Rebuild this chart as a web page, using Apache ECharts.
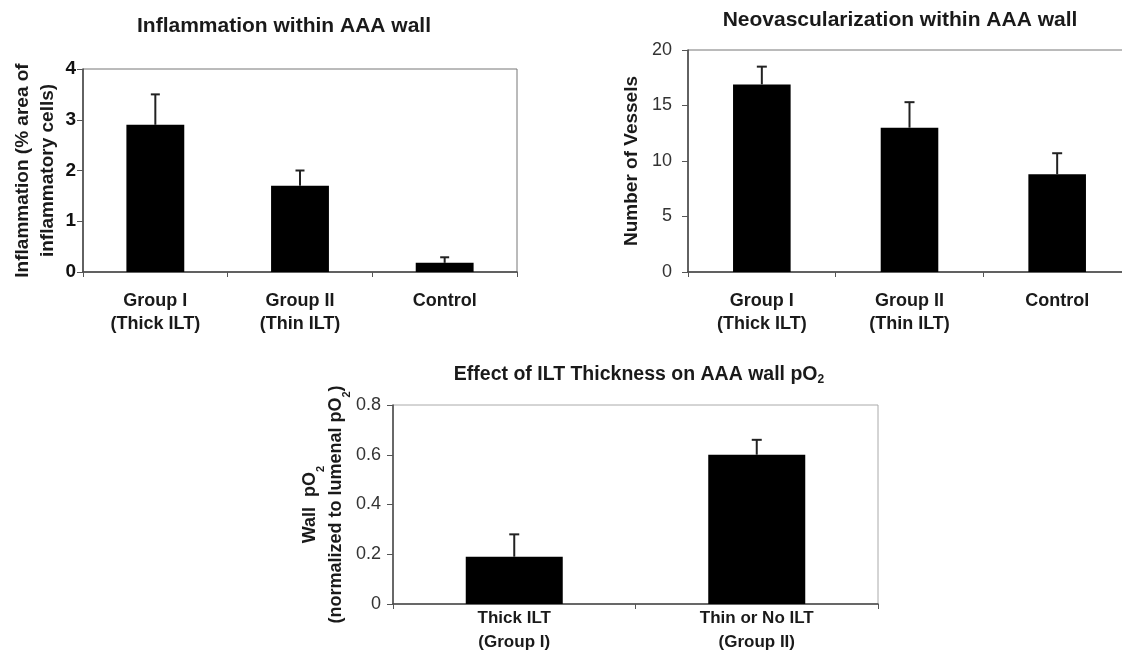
<!DOCTYPE html>
<html>
<head>
<meta charset="utf-8">
<script src="https://cdn.jsdelivr.net/npm/echarts@6/dist/echarts.min.js"></script>
<style>
  html, body { margin: 0; padding: 0; background: #fff; }
  #chart { width: 1122px; height: 653px; }
</style>
</head>
<body>
<div id="chart"></div>
<script>
// Inflammation within the AAA wall
const inflCategories = ['Group I\n(Thick ILT)', 'Group II\n(Thin ILT)', 'Control'];
const inflMeans = [2.9, 1.7, 0.18];
const inflErrors = [0.6, 0.3, 0.11];

// Neovascularization within the AAA wall
const neoCategories = ['Group I\n(Thick ILT)', 'Group II\n(Thin ILT)', 'Control'];
const neoMeans = [16.9, 13, 8.8];
const neoErrors = [1.6, 2.3, 1.9];

// Wall pO2 by ILT thickness
const po2Categories = ['Thick ILT\n(Group I)', 'Thin or No ILT\n(Group II)'];
const po2Means = [0.19, 0.6];
const po2Errors = [0.09, 0.06];

const FONT = '"Liberation Sans", Arial, sans-serif';
const INK = '#1a1a1a';

function errorData(means, errors) {
  return means.map((m, i) => [i, m, m + errors[i]]);
}

// Upper error whisker with a short cap, drawn through the grid's own scales
function errorBarSeries(idx, means, errors, capHalf) {
  return {
    type: 'custom',
    xAxisIndex: idx,
    yAxisIndex: idx,
    silent: true,
    z: 5,
    data: errorData(means, errors),
    encode: { x: 0, y: [1, 2] },
    renderItem: function (params, api) {
      const base = api.coord([api.value(0), api.value(1)]);
      const top = api.coord([api.value(0), api.value(2)]);
      const style = { stroke: '#222', lineWidth: 2 };
      return {
        type: 'group',
        children: [
          { type: 'line', shape: { x1: base[0], y1: base[1], x2: top[0], y2: top[1] }, style: style },
          { type: 'line', shape: { x1: top[0] - capHalf, y1: top[1], x2: top[0] + capHalf, y2: top[1] }, style: style }
        ]
      };
    }
  };
}

function catAxis(idx, cats, margin, fontSize, lineHeight) {
  return {
    type: 'category',
    gridIndex: idx,
    data: cats,
    axisLine: { lineStyle: { color: '#444', width: 1.5 } },
    axisTick: { show: true, length: 5, inside: false, lineStyle: { color: '#555' } },
    axisLabel: {
      margin: margin,
      fontFamily: FONT,
      fontWeight: 'bold',
      fontSize: fontSize,
      lineHeight: lineHeight,
      color: INK
    }
  };
}

function valAxis(idx, max, interval, labelStyle, name, nameGap, nameSize, nameLineHeight, nameRich) {
  return {
    type: 'value',
    gridIndex: idx,
    min: 0,
    max: max,
    interval: interval,
    splitLine: { show: false },
    axisLine: { show: true, lineStyle: { color: '#444', width: 1.5 } },
    axisTick: { show: true, length: 6, lineStyle: { color: '#555' } },
    axisLabel: Object.assign({ fontFamily: FONT }, labelStyle),
    name: name,
    nameLocation: 'middle',
    nameRotate: 90,
    nameGap: nameGap,
    nameTextStyle: Object.assign({
      fontFamily: FONT,
      fontWeight: 'bold',
      fontSize: nameSize,
      lineHeight: nameLineHeight,
      color: INK
    }, nameRich ? { rich: nameRich } : {})
  };
}

const subRich = {
  sub: { fontFamily: FONT, fontWeight: 'bold', fontSize: 11, verticalAlign: 'bottom', lineHeight: 26, padding: [0, 0, -3, 0], color: INK }
};

function titleText(text, x, y, size, rich) {
  return {
    type: 'text',
    x: x,
    y: y,
    silent: true,
    style: {
      text: text,
      align: 'center',
      verticalAlign: 'middle',
      fontFamily: FONT,
      fontWeight: 'bold',
      fontSize: size,
      fill: INK,
      rich: rich || {}
    }
  };
}

const option = {
  backgroundColor: '#fff',
  animation: false,
  graphic: [
    titleText('Inflammation within AAA wall', 284, 26, 21),
    titleText('Neovascularization within AAA wall', 900, 20, 21),
    titleText('Effect of ILT Thickness on AAA wall pO{sub|2}', 639, 375, 19.5, {
      sub: { fontFamily: FONT, fontWeight: 'bold', fontSize: 12, fill: INK, padding: [9, 0, 0, 0] }
    })
  ],
  grid: [
    { left: 83, top: 69, width: 434, height: 203, show: true, borderColor: '#777', borderWidth: 1, outerBoundsMode: 'none' },
    // the right edge of this panel runs past the canvas
    { left: 688, top: 50, width: 443, height: 222, show: true, borderColor: '#777', borderWidth: 1, outerBoundsMode: 'none' },
    { left: 393, top: 405, width: 485, height: 199, show: true, borderColor: '#aaa', borderWidth: 1, outerBoundsMode: 'none' }
  ],
  xAxis: [
    catAxis(0, inflCategories, 18, 18, 23),
    catAxis(1, neoCategories, 18, 18, 23),
    catAxis(2, po2Categories, 2, 17, 24)
  ],
  yAxis: [
    valAxis(0, 4, 1, { margin: 7, fontSize: 19, fontWeight: 'bold', color: '#111' },
      'Inflammation (% area of\ninflammatory cells)', 23, 19, 25),
    valAxis(1, 20, 5, { margin: 16, fontSize: 18, color: '#333' },
      'Number of Vessels', 44, 19, 25),
    valAxis(2, 0.8, 0.2, { margin: 12, fontSize: 18, color: '#333' },
      'Wall  pO{sub|2}\n(normalized to lumenal pO{sub|2})', 43, 18, 26, subRich)
  ],
  series: [
    { type: 'bar', xAxisIndex: 0, yAxisIndex: 0, data: inflMeans, barWidth: '40%', itemStyle: { color: '#000' } },
    errorBarSeries(0, inflMeans, inflErrors, 4.5),
    { type: 'bar', xAxisIndex: 1, yAxisIndex: 1, data: neoMeans, barWidth: '39%', itemStyle: { color: '#000' } },
    errorBarSeries(1, neoMeans, neoErrors, 5),
    { type: 'bar', xAxisIndex: 2, yAxisIndex: 2, data: po2Means, barWidth: '40%', itemStyle: { color: '#000' } },
    errorBarSeries(2, po2Means, po2Errors, 5)
  ]
};

const chart = echarts.init(document.getElementById('chart'), null, { renderer: 'canvas' });
chart.setOption(option);
</script>
</body>
</html>
